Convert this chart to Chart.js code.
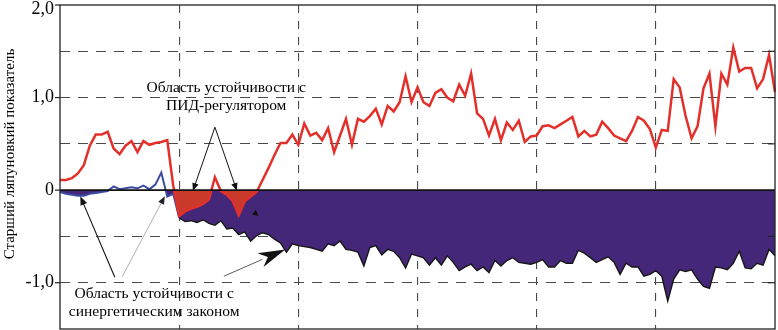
<!DOCTYPE html>
<html><head><meta charset="utf-8">
<script src="https://cdn.jsdelivr.net/npm/chart.js@4.4.1/dist/chart.umd.min.js"></script>
<style>html,body{margin:0;padding:0;background:#fff}</style>
</head><body>
<canvas id="c" width="778" height="330"></canvas>
<script>
// time steps (categories)
const steps = [];
for (let i = 0; i <= 120; i++) steps.push(i);

// Largest Lyapunov exponent, PID controller
const pidSeries = [
  0.11, 0.11, 0.13, 0.18, 0.27, 0.48, 0.60, 0.60, 0.63, 0.45,
  0.39, 0.48, 0.53, 0.41, 0.53, 0.49, 0.51, 0.52, 0.54, 0.05,
  -0.28, -0.23, -0.20, -0.18, -0.15, -0.10, 0.14, -0.01, -0.05, -0.12,
  -0.27, -0.12, -0.07, -0.02, 0.11, 0.24, 0.38, 0.51, 0.51, 0.60,
  0.49, 0.72, 0.59, 0.62, 0.54, 0.67, 0.41, 0.59, 0.77, 0.49,
  0.77, 0.74, 0.80, 0.88, 0.71, 0.91, 0.85, 0.95, 1.23, 0.95,
  1.11, 0.95, 0.91, 1.05, 1.09, 1.00, 0.96, 1.14, 1.02, 1.26,
  0.83, 0.77, 0.59, 0.77, 0.54, 0.73, 0.65, 0.75, 0.52, 0.58,
  0.59, 0.69, 0.70, 0.67, 0.71, 0.75, 0.79, 0.58, 0.64, 0.58,
  0.60, 0.74, 0.67, 0.59, 0.56, 0.53, 0.64, 0.79, 0.75, 0.66,
  0.46, 0.65, 0.64, 1.20, 1.11, 0.80, 0.56, 0.69, 1.10, 1.26,
  0.69, 1.26, 1.14, 1.54, 1.28, 1.32, 1.32, 1.10, 1.20, 1.46,
  1.06
];

// Largest Lyapunov exponent, synergetic control law
const synSeries = [
  -0.02, -0.04, -0.05, -0.06, -0.06, -0.04, -0.03, -0.02, -0.01, 0.04,
  0.01, 0.02, 0.03, 0.02, 0.05, 0.01, 0.06, 0.19, -0.07, -0.04,
  -0.30, -0.34, -0.33, -0.35, -0.32, -0.36, -0.38, -0.33, -0.42, -0.41,
  -0.48, -0.45, -0.55, -0.49, -0.46, -0.48, -0.53, -0.57, -0.67, -0.58,
  -0.60, -0.61, -0.62, -0.64, -0.66, -0.58, -0.60, -0.55, -0.64, -0.65,
  -0.67, -0.82, -0.62, -0.60, -0.70, -0.64, -0.66, -0.73, -0.84, -0.69,
  -0.71, -0.73, -0.81, -0.73, -0.81, -0.71, -0.78, -0.87, -0.83, -0.80,
  -0.87, -0.83, -0.89, -0.76, -0.82, -0.76, -0.73, -0.78, -0.79, -0.80,
  -0.78, -0.75, -0.83, -0.83, -0.76, -0.79, -0.79, -0.65, -0.68, -0.73,
  -0.78, -0.75, -0.72, -0.78, -0.91, -0.79, -0.83, -0.83, -0.93, -0.91,
  -0.87, -0.93, -1.20, -0.96, -0.86, -0.88, -0.86, -0.96, -1.04, -1.06,
  -0.83, -0.84, -0.86, -0.79, -0.66, -0.84, -0.85, -0.79, -0.81, -0.64,
  -0.71
];

const yLabelValues = [2, 1, 0, -1];
const yLabels = ['2,0', '1,0', '0', '-1,0'];
const yMinorValues = [1.5, 1, 0.5, -0.5, -1];
const yTitle = 'Старший ляпуновкий показатель';

// annotations (data units: [step, value])
const notes = [
  { text: 'Область устойчивости с', at: [27.9, 1.10] },
  { text: 'ПИД-регулятором', at: [27.9, 0.91] },
  { text: 'Область устойчивости с', at: [15.8, -1.12] },
  { text: 'синергетическим законом', at: [15.8, -1.32] }
];
const arrows = [
  { from: [26.0, 0.68], to: [22.3, -0.01], color: '#111', w: 1, head: 8, hw: 3.2 },
  { from: [26.0, 0.68], to: [29.7, -0.01], color: '#111', w: 1, head: 8, hw: 3.2 },
  { from: [9.2, -0.94], to: [3.4, -0.065], color: '#111', w: 1.1, head: 9, hw: 3.5 },
  { from: [10.4, -0.94], to: [17.6, -0.065], color: '#9a9a9a', w: 0.8, head: 8, hw: 3.2, headColor: '#222' },
  { from: [27.5, -0.93], to: [37.8, -0.64], color: '#333', w: 0.8, head: 27, hw: 7.5, notch: true },
  { from: [32.0, -0.21], to: [33.3, -0.28], color: 'rgba(0,0,0,0)', w: 0, head: 6, hw: 3 }
];

function drawArrow(ctx, x1, y1, x2, y2, o) {
  const ang = Math.atan2(y2 - y1, x2 - x1);
  const c = Math.cos(ang), s = Math.sin(ang);
  const bx = x2 - c * o.head, by = y2 - s * o.head;
  if (o.w > 0) {
    ctx.strokeStyle = o.color; ctx.lineWidth = o.w;
    ctx.beginPath(); ctx.moveTo(x1, y1); ctx.lineTo(bx + c * 2, by + s * 2); ctx.stroke();
  }
  ctx.fillStyle = o.headColor || '#111';
  ctx.beginPath();
  ctx.moveTo(x2, y2);
  ctx.lineTo(bx - s * o.hw, by + c * o.hw);
  if (o.notch) ctx.lineTo(x2 - c * o.head * 0.7, y2 - s * o.head * 0.7);
  ctx.lineTo(bx + s * o.hw, by - c * o.hw);
  ctx.closePath(); ctx.fill();
}

const overlay = {
  id: 'overlay',
  afterDatasetsDraw(chart) {
    const { ctx, chartArea: a, scales: { x, y } } = chart;
    const X = v => x.getPixelForValue(v), Y = v => y.getPixelForValue(v);
    ctx.save();
    // zero line
    ctx.strokeStyle = '#111'; ctx.lineWidth = 1.6;
    ctx.beginPath(); ctx.moveTo(a.left, Y(0)); ctx.lineTo(a.right, Y(0)); ctx.stroke();
    // frame
    ctx.strokeStyle = '#222'; ctx.lineWidth = 1.3;
    ctx.strokeRect(a.left, a.top, a.right - a.left, a.bottom - a.top);
    // right inner ticks
    ctx.lineWidth = 1.2;
    yMinorValues.forEach(v => {
      ctx.beginPath(); ctx.moveTo(a.right - 7, Y(v)); ctx.lineTo(a.right, Y(v)); ctx.stroke();
    });
    // left ticks and labels
    ctx.fillStyle = '#000';
    ctx.font = '18px "Liberation Serif", "Times New Roman", serif';
    ctx.textAlign = 'right'; ctx.textBaseline = 'middle';
    yLabelValues.forEach((v, i) => {
      const py = Y(v);
      ctx.beginPath(); ctx.moveTo(a.left - 5, py); ctx.lineTo(a.left, py); ctx.stroke();
      ctx.fillText(yLabels[i], a.left - 6, Math.max(py, a.top + 4));
    });
    // y title
    ctx.save();
    ctx.translate(a.left - 50, Y(0.39));
    ctx.rotate(-Math.PI / 2);
    ctx.textAlign = 'center'; ctx.textBaseline = 'middle';
    ctx.font = '15px "Liberation Serif", "Times New Roman", serif';
    ctx.fillText(yTitle, 0, 0);
    ctx.restore();
    // arrows
    arrows.forEach(o => drawArrow(ctx, X(o.from[0]), Y(o.from[1]), X(o.to[0]), Y(o.to[1]), o));
    // notes
    ctx.fillStyle = '#000';
    ctx.font = '15.5px "Liberation Serif", "Times New Roman", serif';
    ctx.textAlign = 'center'; ctx.textBaseline = 'middle';
    notes.forEach(n => ctx.fillText(n.text, X(n.at[0]), Y(n.at[1])));
    ctx.restore();
  }
};

new Chart(document.getElementById('c'), {
  type: 'line',
  data: {
    labels: steps,
    datasets: [
      {
        label: 'ПИД-регулятор',
        data: pidSeries,
        borderColor: '#e3302a',
        borderWidth: 2.5,
        pointRadius: 0,
        tension: 0,
        fill: { target: 'origin', above: 'rgba(0,0,0,0)', below: '#c93a2c' }
      },
      {
        label: 'Синергетический закон',
        data: synSeries,
        borderColor: '#161616',
        borderWidth: 1.4,
        segment: {
          borderColor: c => c.p0DataIndex < 20 ? '#3b4aa3' : '#161616',
          borderWidth: c => c.p0DataIndex < 20 ? 2 : 1.4
        },
        pointRadius: 0,
        tension: 0,
        fill: { target: 'origin', above: 'rgba(0,0,0,0)', below: '#45277a' }
      }
    ]
  },
  options: {
    responsive: false,
    animation: false,
    layout: { padding: { top: 5, right: 3, bottom: 1, left: 0 } },
    plugins: { legend: { display: false }, tooltip: { enabled: false } },
    scales: {
      x: {
        type: 'category',
        offset: false,
        ticks: { display: false },
        grid: {
          color: c => (c.index % 20 === 0 && c.index > 0 && c.index < 120) ? '#4a4a4a' : 'rgba(0,0,0,0)',
          lineWidth: 1.1,
          drawTicks: false
        },
        border: { display: false, dash: [8, 8] }
      },
      y: {
        min: -1.5,
        max: 2.0,
        ticks: { display: false, stepSize: 0.5 },
        grid: {
          color: c => (Math.abs(c.tick.value) < 1e-9 || c.tick.value >= 2 || c.tick.value <= -1.5) ? 'rgba(0,0,0,0)' : '#4a4a4a',
          lineWidth: 1.1,
          drawTicks: false
        },
        border: { display: false, dash: [10, 8] },
        afterFit: s => { s.width = 60; }
      }
    }
  },
  plugins: [overlay]
});
</script>
</body></html>
